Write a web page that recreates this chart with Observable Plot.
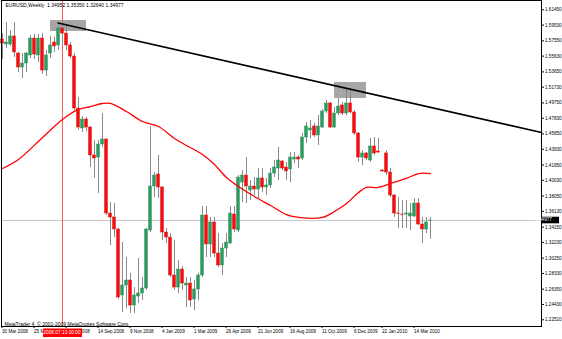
<!DOCTYPE html>
<html><head><meta charset="utf-8">
<script src="https://cdn.jsdelivr.net/npm/d3@7"></script>
<script src="https://cdn.jsdelivr.net/npm/@observablehq/plot@0.6"></script>
<style>
html,body{margin:0;padding:0;background:#fff;}
#chart svg{display:block;}
</style></head><body><div id="chart"></div>
<script>
const symbol = "EURUSD,Weekly";
const copyright = "MetaTrader 4, \u00a9 2001-2009 MetaQuotes Software Corp.";
const opens = [1.5772,1.5709,1.5709,1.5810,1.5596,1.5420,1.5470,1.5571,1.5784,1.5571,1.5784,1.5382,1.5596,1.5734,1.5697,1.5910,1.5846,1.5697,1.5558,1.4905,1.4654,1.4767,1.4666,1.4315,1.4289,1.4453,1.4516,1.3586,1.3536,1.3385,1.2556,1.2681,1.2744,1.2430,1.2543,1.2581,1.2644,1.3372,1.3925,1.4076,1.3913,1.3347,1.3284,1.2807,1.2656,1.2882,1.2681,1.2706,1.2506,1.2631,1.2807,1.3561,1.3197,1.3473,1.3083,1.2933,1.3146,1.3209,1.3573,1.3372,1.3975,1.4063,1.3875,1.3925,1.3887,1.4026,1.3913,1.3938,1.4088,1.4151,1.4239,1.4164,1.4139,1.4264,1.4289,1.4277,1.4541,1.4629,1.4679,1.4566,1.4666,1.4867,1.4968,1.4666,1.4842,1.4943,1.4842,1.4968,1.4855,1.4591,1.4289,1.4340,1.4252,1.4428,1.4365,1.4126,1.4340,1.4101,1.3812,1.3586,1.3573,1.3573,1.3548,1.3548,1.3711,1.3448,1.3385,1.34952];
const highs = [1.5846,1.5985,1.5885,1.5985,1.5609,1.5596,1.5609,1.5822,1.5835,1.5835,1.5846,1.5634,1.5810,1.5797,1.5973,1.5990,1.5935,1.5734,1.5596,1.5043,1.4805,1.4792,1.4679,1.4503,1.4503,1.4842,1.4520,1.3724,1.3711,1.3397,1.3221,1.3033,1.2832,1.2656,1.3020,1.2782,1.3397,1.4679,1.4101,1.4315,1.3925,1.3397,1.3335,1.3247,1.2995,1.2920,1.2782,1.2782,1.2744,1.2832,1.3674,1.3674,1.3536,1.3536,1.3335,1.3209,1.3335,1.3674,1.3674,1.4063,1.4126,1.4289,1.4001,1.4038,1.4151,1.4151,1.4026,1.4151,1.4252,1.4415,1.4252,1.4227,1.4352,1.4352,1.4315,1.4591,1.4729,1.4754,1.4717,1.4817,1.4893,1.5006,1.4980,1.4918,1.5031,1.4980,1.5156,1.5150,1.4880,1.4604,1.4377,1.4352,1.4528,1.4541,1.4528,1.4139,1.4377,1.4151,1.3824,1.3787,1.3749,1.3749,1.3711,1.3774,1.3774,1.3536,1.3536,1.35350];
const lows = [1.5521,1.5659,1.5684,1.5546,1.5357,1.5282,1.5357,1.5533,1.5521,1.5483,1.5332,1.5307,1.5533,1.5609,1.5634,1.5697,1.5634,1.5533,1.4880,1.4629,1.4604,1.4616,1.4164,1.4026,1.3837,1.4415,1.3561,1.3184,1.3284,1.2506,1.2342,1.2392,1.2330,1.2330,1.2455,1.2493,1.2619,1.3347,1.3787,1.3774,1.3247,1.3209,1.2782,1.2619,1.2581,1.2619,1.2405,1.2405,1.2367,1.2493,1.2782,1.3033,1.3033,1.3033,1.2907,1.2807,1.3033,1.3200,1.3347,1.3347,1.3724,1.3711,1.3749,1.3812,1.3774,1.3850,1.3812,1.3900,1.4038,1.4001,1.4126,1.4001,1.3975,1.4214,1.4151,1.4252,1.4465,1.4528,1.4541,1.4440,1.4654,1.4842,1.4654,1.4654,1.4817,1.4817,1.4817,1.4842,1.4566,1.4227,1.4189,1.4252,1.4227,1.4315,1.4340,1.4101,1.4063,1.3787,1.3536,1.3397,1.3397,1.3397,1.3372,1.3536,1.3435,1.3209,1.3335,1.32640];
const closes = [1.5722,1.5734,1.5810,1.5609,1.5420,1.5470,1.5596,1.5784,1.5583,1.5784,1.5382,1.5571,1.5697,1.5684,1.5910,1.5846,1.5697,1.5558,1.4905,1.4666,1.4767,1.4666,1.4315,1.4277,1.4453,1.4516,1.3586,1.3536,1.3385,1.2531,1.2681,1.2744,1.2430,1.2556,1.2581,1.2644,1.3385,1.3925,1.4063,1.3913,1.3347,1.3284,1.2807,1.2656,1.2882,1.2706,1.2706,1.2493,1.2631,1.2807,1.3561,1.3197,1.3473,1.3083,1.2933,1.3146,1.3221,1.3586,1.3385,1.4038,1.4063,1.3925,1.3925,1.3887,1.4026,1.3913,1.3938,1.4088,1.4164,1.4252,1.4151,1.4114,1.4289,1.4289,1.4264,1.4541,1.4679,1.4654,1.4566,1.4679,1.4867,1.4968,1.4666,1.4842,1.4930,1.4842,1.4968,1.4855,1.4591,1.4289,1.4340,1.4277,1.4428,1.4340,1.4352,1.4114,1.4101,1.3812,1.3586,1.3580,1.3570,1.3586,1.3586,1.3711,1.3448,1.3385,1.3473,1.34977];

// moving average (red line), read at bar positions
const maBars = [0,4,10,15,19,22,25,27,31,35,39,43,46,50,53,56,59,63,67,71,74,80,83,86,89,91,94,97,101,104,107];
const maValues = [1.4151,1.4264,1.4541,1.4767,1.4893,1.4930,1.4968,1.4968,1.4867,1.4742,1.4679,1.4528,1.4440,1.4327,1.4201,1.4038,1.3925,1.3799,1.3686,1.3573,1.3536,1.3536,1.3611,1.3711,1.3850,1.3913,1.3913,1.3963,1.4026,1.4088,1.4088];

// trend line anchors
const trendBars = [13.9, 134.75];
const trendPrices = [1.5979, 1.4604];
// highlighted boxes
const boxBarStart = [12, 83];
const boxBarEnd = [21, 91];
const boxPriceLow = [1.5872, 1.5031];
const boxPriceHigh = [1.6010, 1.5232];

const yTicks = [1.61450,1.59530,1.57550,1.55630,1.53650,1.51730,1.49750,1.47830,1.45850,1.43930,1.41950,1.40030,1.38050,1.36130,1.34150,1.32230,1.30250,1.28330,1.26350,1.24430,1.22510];
const xTickBars = [0,8,16,24,32,40,48,56,64,72,80,88,95,103];
const xTickLabels = ["30 Mar 2008","25 May 2008","20 Jul 2008","14 Sep 2008","9 Nov 2008","4 Jan 2009","1 Mar 2009","26 Apr 2009","21 Jun 2009","16 Aug 2009","11 Oct 2009","6 Dec 2009","22 Jan 2010","14 Mar 2010"];
const markerBar = 15;
const markerLabel = "2008.07.13 00:00";

const candles = opens.map((o, i) => ({i, o, h: highs[i], l: lows[i], c: closes[i], up: closes[i] >= o}));
const ma = maBars.map((b, k) => ({b, v: maValues[k]}));
const trend = trendBars.map((b, k) => ({b, v: trendPrices[k]}));
const boxes = boxBarStart.map((b, k) => ({b1: b, b2: boxBarEnd[k], v1: boxPriceLow[k], v2: boxPriceHigh[k]}));
const last = candles[candles.length - 1];
const f5 = d3.format(".5f");
const title = `${symbol}  ${f5(last.o)} ${f5(last.h)} ${f5(last.l)} ${f5(last.c)}`;
const tickLabel = new Map(xTickBars.map((b, k) => [b, xTickLabels[k]]));

const GREEN = "#2f9960", RED = "#ee1111", WICK = "#8a8a8a";

const plot = Plot.plot({
  width: 562, height: 339,
  marginLeft: 1, marginRight: 21, marginTop: 0, marginBottom: 13,
  style: {fontFamily: "'Liberation Sans', Arial, sans-serif", fontSize: "4.8px", background: "#fff", color: "#000", overflow: "visible"},
  x: {type: "linear", domain: [-0.25, 134.75]},
  y: {domain: [1.21664, 1.62618]},
  marks: [
    Plot.rect(boxes, {x1: "b1", x2: "b2", y1: "v1", y2: "v2", fill: "#a6a6a6"}),
    Plot.ruleY([last.c], {stroke: "#c8c8c8", strokeWidth: 1}),
    Plot.ruleX([markerBar], {stroke: "#ff5a5a", strokeWidth: 1}),
    Plot.ruleX(candles, {x: "i", y1: "l", y2: "h", stroke: WICK, strokeWidth: 1}),
    Plot.rect(candles, {x1: d => d.i - 0.375, x2: d => d.i + 0.375, y1: "o", y2: "c",
      fill: d => d.up ? GREEN : RED, stroke: d => d.up ? GREEN : RED, strokeWidth: 0.5}),
    Plot.line(ma, {x: "b", y: "v", stroke: "#ff0000", strokeWidth: 1.3, curve: "catmull-rom"}),
    Plot.line(trend, {x: "b", y: "v", stroke: "#000", strokeWidth: 1.6}),
    Plot.frame({stroke: "#000", strokeWidth: 1}),
    Plot.axisY({anchor: "right", ticks: yTicks, tickFormat: f5, tickSize: 2, tickPadding: 1.5, fontSize: 4.6}),
    Plot.axisX({ticks: xTickBars, tickFormat: d => tickLabel.get(d), tickSize: 2, tickPadding: 1.5, textAnchor: "start", fontSize: 4.6, dx: -0.5}),
    Plot.text([title], {frameAnchor: "top-left", dx: 4, dy: 3, textAnchor: "start", lineAnchor: "top", fontSize: 5, fill: "#000"}),
    Plot.text([copyright], {frameAnchor: "bottom-left", dx: 3, dy: -1, textAnchor: "start", lineAnchor: "bottom", fontSize: 5, fill: "#000"})
  ]
});

// overlays: marker date tag and current price tag, positioned by Plot's scales
const svg = d3.select(plot);
const xs = plot.scale("x"), ys = plot.scale("y");
const mx = xs.apply(markerBar);
const g = svg.append("g").attr("font-family", "'Liberation Sans', Arial, sans-serif");
g.append("rect").attr("x", mx - 19).attr("y", 328.5).attr("width", 39).attr("height", 8.5).attr("fill", "#ff0000");
g.append("text").attr("x", mx).attr("y", 332.8).attr("text-anchor", "middle").attr("dominant-baseline", "middle")
  .attr("font-size", 4.8).attr("fill", "#fff").text(markerLabel);
const py = ys.apply(last.c);
g.append("rect").attr("x", 542).attr("y", py - 3.3).attr("width", 17).attr("height", 6.6).attr("fill", "#000");
g.append("text").attr("x", 543.5).attr("y", py + 0.2).attr("dominant-baseline", "middle")
  .attr("font-size", 4.6).attr("fill", "#fff").text(f5(last.c));

document.getElementById("chart").appendChild(plot);
</script></body></html>
